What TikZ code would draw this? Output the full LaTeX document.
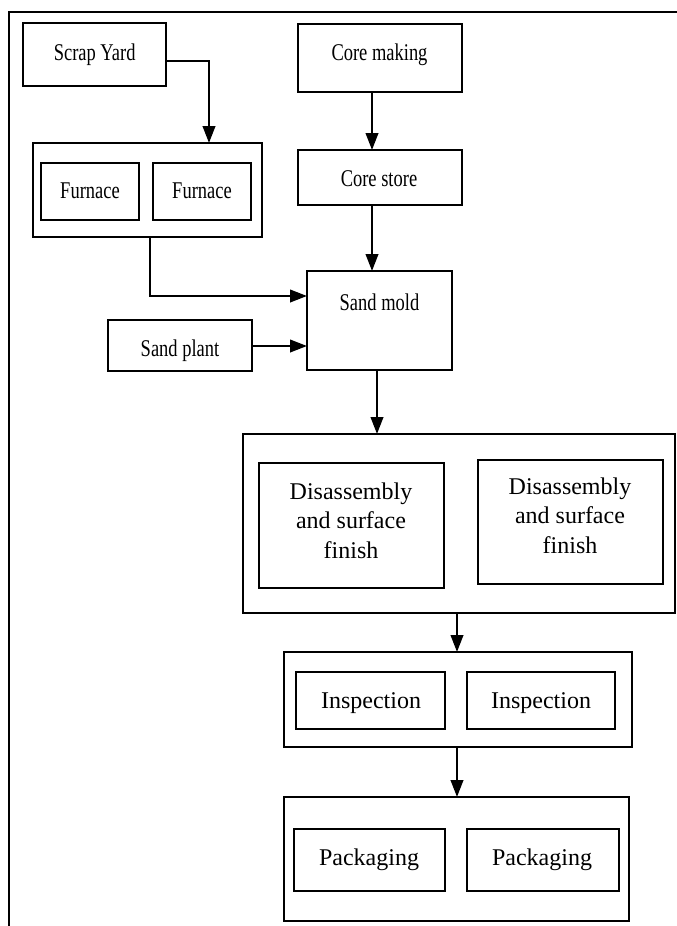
\documentclass[tikz,border=0pt]{standalone}
\usepackage{fontspec}
\setmainfont{Liberation Serif}
\newfontfamily\narrowfont[FakeStretch=0.77]{Liberation Serif}
\usetikzlibrary{arrows.meta}
\tikzset{
  box/.style={draw, line width=2.4pt, inner sep=0pt, outer sep=0pt},
  lbl/.style={anchor=base, inner sep=0pt, font=\fontsize{24}{29.5}\selectfont, align=center},
  nlbl/.style={anchor=base, inner sep=0pt, font=\fontsize{24}{29.5}\selectfont\narrowfont, align=center},
  arr/.style={line width=2.4pt, -{Triangle[length=17pt,width=12.5pt]}},
}
\newcommand{\bx}[5]{\node[box, minimum width={(#4-#2)*1pt}, minimum height={(#5-#3)*1pt}] (#1) at ({(#2+#4)/2},{(#3+#5)/2}) {};}
\begin{document}
\begin{tikzpicture}[x=1pt,y=-1pt]
\useasboundingbox (0,0) rectangle (677,926);
% outer frame
\draw[line width=2.4pt] (677,12) -- (9,12) -- (9,926);
% boxes
\bx{sy}{23}{23}{166}{86}
\bx{fg}{33}{143}{262}{237}
\bx{fa}{41}{163}{139}{220}
\bx{fb}{153}{163}{251}{220}
\bx{cm}{298}{24}{462}{92}
\bx{cs}{298}{150}{462}{205}
\bx{sm}{307}{271}{452}{370}
\bx{sp}{108}{320}{252}{371}
\bx{dg}{243}{434}{675}{613}
\bx{da}{259}{463}{444}{588}
\bx{db}{478}{460}{663}{584}
\bx{ig}{284}{652}{632}{747}
\bx{ia}{296}{672}{445}{729}
\bx{ib}{467}{672}{615}{729}
\bx{pg}{284}{797}{629}{921}
\bx{pa}{294}{829}{445}{891}
\bx{pb}{467}{829}{619}{891}
% labels
\node[nlbl] (tsy) at (94.7,60) {Scrap Yard};
\node[nlbl] (tcm) at (379.5,60) {Core making};
\node[nlbl] (tfa) at (90,198) {Furnace};
\node[nlbl] (tfb) at (202,198) {Furnace};
\node[nlbl] (tcs) at (379,186) {Core store};
\node[nlbl] (tsm) at (379.5,310) {Sand mold};
\node[nlbl] (tsp) at (180,356) {Sand plant};
\node[lbl] (tda) at (351,558) {Disassembly\\and surface\\finish};
\node[lbl] (tdb) at (570,553) {Disassembly\\and surface\\finish};
\node[lbl] (tia) at (371,708) {Inspection};
\node[lbl] (tib) at (541,708) {Inspection};
\node[lbl] (tpa) at (369,865) {Packaging};
\node[lbl] (tpb) at (542,865) {Packaging};
% connectors
\coordinate (c1) at (209,61);
\draw[arr] (sy.east |- c1) -- (c1) -- (fg.north -| c1);
\coordinate (c2) at (372,0);
\draw[arr] (cm.south -| c2) -- (cs.north -| c2);
\draw[arr] (cs.south -| c2) -- (sm.north -| c2);
\coordinate (c3) at (150,296);
\draw[arr] (fg.south -| c3) -- (c3) -- (sm.west |- c3);
\coordinate (c4) at (0,346);
\draw[arr] (sp.east |- c4) -- (sm.west |- c4);
\coordinate (c5) at (377,0);
\draw[arr] (sm.south -| c5) -- (dg.north -| c5);
\coordinate (c6) at (457,0);
\draw[arr] (dg.south -| c6) -- (ig.north -| c6);
\draw[arr] (ig.south -| c6) -- (pg.north -| c6);
\end{tikzpicture}
\end{document}
